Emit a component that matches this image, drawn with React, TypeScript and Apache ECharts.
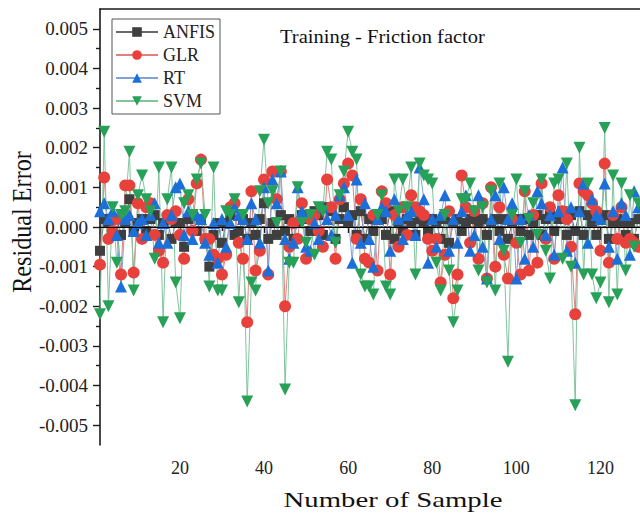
import React, { useEffect, useRef } from "react";
import * as echarts from "echarts";

const samples: number[] = Array.from({ length: 130 }, (_, i) => i + 1);

const anfis: number[] = [
  -0.0006, 0.0002, 0.0001, -0.0001, 0.0002, -0.0002, 0.0001, 0.0007, -0.0001, 0.0001,
  0.0002, -0.0001, 0.0002, 0.0003, -0.0002, 0.0001, 0.0002, -0.0003, 0.0001, 0.0001,
  -0.0005, 0.0002, 0.0003, -0.0001, 0.0002, -0.0003, -0.001, -0.0002, 0.0001, -0.0004,
  0.0001, 0.0003, -0.0002, -0.0001, 0.0002, -0.0003, 0.0001, -0.0002, 0.0002, 0.0006,
  -0.0003, 0.0001, -0.0002, 0.0003, -0.0001, 0.0002, -0.0003, 0.0001, 0.0003, 0.0002,
  -0.0001, 0.0004, 0.0003, -0.0002, 0.0005, 0.0004, -0.0003, 0.0002, 0.0005, 0.0001,
  0.0003, -0.0002, 0.0004, -0.0003, 0.0002, -0.0001, 0.0003, 0.0002, -0.0002, 0.0004,
  -0.0003, 0.0001, -0.0001, 0.0002, 0.0001, -0.0002, 0.0002, 0.0001, -0.0001, 0.0002,
  0.0001, -0.0003, 0.0002, -0.0004, 0.0001, 0.0002, -0.0001, 0.0001, 0.0002, 0.0002,
  0.0001, 0.0002, -0.0002, 0.0001, 0.0002, -0.0001, 0.0002, -0.0003, 0.0001, 0.0002,
  -0.0001, 0.0002, -0.0002, 0.0001, 0.0003, -0.0002, 0.0002, 0.0003, -0.0001, 0.0002,
  0.0004, -0.0002, 0.0003, -0.0001, 0.0004, -0.0002, 0.0003, 0.0001, -0.0002, 0.0002,
  0.0003, -0.0003, 0.0001, 0.0002, 0.0001, -0.0002, 0.0001, -0.0003, 0.0002, -0.0001,
];

const glr: number[] = [
  -0.00095, 0.00125, -0.0003, -0.0001, 0.0002, -0.0012, 0.00105, 0.00105, -0.00115, 0.0006,
  -0.0003, 0.0005, 0.0006, -0.0002, -0.0006, -0.0009, 0.0003, 0.0002, 0.0004, -0.0002,
  -0.0008, 0.0007, -0.0001, 0.0011, 0.0017, -0.0003, -0.0003, -0.0007, -0.0008, -0.0012,
  -0.0007, 0.0005, 0.0006, -0.0004, -0.0008, -0.0024, 0.0009, -0.0011, -0.0006, 0.0012,
  -0.0012, 0.0014, 0.0007, 0.0014, -0.002, -0.0005, 0.0001, -0.0003, 0.0006, -0.0008,
  0.0002, 0.0003, -0.0001, -0.0005, 0.0012, 0.0005, -0.0008, 0.0007, 0.0011, 0.0016,
  0.0013, -0.0003, 0.0007, -0.0008, -0.0009, 0.0003, -0.0011, 0.0009, 0.0006, -0.0012,
  0.0003, -0.0005, 0.0005, -0.0002, 0.0008, 0.0005, 0.0004, 0.0003, -0.0003, -0.0006,
  -0.0003, -0.0014, -0.0007, 0.0004, -0.0018, -0.0012, 0.0013, 0.0005, -0.0004, 0.0004,
  -0.0008, 0.0006, -0.0013, 0.001, -0.001, 0.0005, -0.0007, -0.0013, 0.0002, -0.0004,
  -0.0012, 0.0009, -0.0011, 0.0003, -0.0009, 0.0011, -0.0003, 0.0005, -0.0008, 0.0008,
  0.0004, 0.0002, -0.0005, -0.0022, 0.0011, 0.0009, 0.0008, 0.0006, 0.0004, -0.0006,
  0.0016, -0.0009, 0.0003, -0.0003, 0.0005, -0.0004, -0.0003, -0.0004, -0.0005, -0.0003,
];

const rt: number[] = [
  0.0004, 0.0006, 0.0002, 0.0004, -0.0002, -0.0015, 0.0002, 0.0003, -0.0001, 0.0001,
  0.0002, -0.0002, 0.0003, 0.0006, -0.0004, 0.0001, -0.0004, 0.0003, 0.001, 0.0011,
  -0.0002, 0.0004, -0.0003, 0.0003, 0.0002, -0.0004, -0.0007, 0.0001, -0.0009, 0.0002,
  -0.0005, 0.0001, 0.0005, 0.0003, 0.0002, -0.0003, 0.0006, 0.0002, -0.0004, 0.001,
  -0.0011, 0.0012, 0.0006, 0.0014, -0.0003, -0.0008, -0.0004, 0.001, 0.0004, -0.0005,
  -0.0006, 0.0001, -0.0003, 0.0005, 0.0002, -0.0002, 0.0003, 0.0008, 0.001, 0.0003,
  -0.0009, 0.0012, -0.0004, 0.0006, -0.0003, -0.001, 0.0002, 0.0005, 0.0004, -0.0006,
  0.0007, 0.0002, -0.0003, 0.0003, 0.0004, -0.0002, 0.0015, 0.0007, -0.0009, 0.0002,
  -0.0005, 0.0003, 0.0008, -0.0006, 0.0002, -0.0004, 0.0004, 0.0008, -0.0006, -0.0002,
  0.0008, -0.0005, -0.0013, 0.0002, 0.0008, -0.0003, 0.001, 0.0002, 0.0006, -0.0013,
  0.0002, -0.0008, 0.0003, -0.0005, 0.0009, 0.0006, -0.0002, 0.0003, -0.0007, 0.0004,
  0.0015, -0.0006, 0.0005, -0.0009, 0.0004, 0.0011, -0.0004, 0.0007, 0.0003, 0.0002,
  0.0011, -0.0005, 0.0004, -0.0008, 0.0006, 0.0003, -0.0007, 0.0009, 0.0005, -0.0006,
];

const svm: number[] = [
  -0.0022, 0.0024, -0.002, 0.0005, -0.0009, 0.0003, 0.0004, 0.0019, -0.0016, 0.0008,
  0.0013, 0.0007, 0.0004, -0.0008, 0.0015, -0.0024, 0.0007, 0.0015, -0.0014, -0.0023,
  0.0006, 0.0008, 0.0003, 0.0012, 0.0016, 0.0003, -0.0015, 0.0015, -0.0016, -0.0016,
  0.0004, 0.0003, 0.0007, -0.0019, 0.0003, -0.0044, -0.0014, -0.0016, 0.0009, 0.0022,
  0.0006, 0.0009, 0.0001, 0.0014, -0.0041, -0.0009, -0.0009, 0.001, 0.0001, -0.0004,
  0.0003, -0.0007, 0.0005, 0.0004, 0.0019, 0.0017, -0.0004, 0.0008, 0.0014, 0.0024,
  0.0019, 0.0017, -0.0012, -0.0015, -0.0015, -0.0017, 0.0003, 0.0008, -0.0015, -0.0017,
  0.0012, 0.0004, 0.0012, 0.0005, 0.0015, -0.0012, 0.0016, 0.0013, 0.0012, 0.0011,
  -0.0009, -0.0016, 0.0003, -0.0011, -0.0024, -0.0016, 0.0007, 0.0007, 0.0011, 0.0004,
  -0.0011, 0.0005, -0.0014, 0.0009, -0.0016, 0.0011, -0.0006, -0.0034, 0.0003, 0.0012,
  -0.0004, 0.0009, 0.0002, 0.0006, -0.0002, 0.0012, -0.0006, -0.0013, 0.0011, 0.0012,
  -0.0008, 0.0016, -0.001, -0.0045, 0.002, -0.0012, 0.0011, -0.0012, -0.0018, -0.0014,
  0.0025, -0.0019, 0.0013, -0.0017, 0.0011, -0.0011, 0.0008, -0.0005, 0.0006, -0.0007,
];

const seriesNames: string[] = ["ANFIS", "GLR", "RT", "SVM"];
const yMajorTicks: number[] = [-0.005, -0.004, -0.003, -0.002, -0.001, 0, 0.001, 0.002, 0.003, 0.004, 0.005];
const yMinorTicks: number[] = [-0.0045, -0.0035, -0.0025, -0.0015, -0.0005, 0.0005, 0.0015, 0.0025, 0.0035, 0.0045];
const xMajorTicks: number[] = [20, 40, 60, 80, 100, 120];
const xMinorTicks: number[] = [10, 30, 50, 70, 90, 110];

const X_MIN = 1;
const X_MAX = 129.4;
const Y_MIN = -0.0055;
const Y_MAX = 0.0055;

const FONT = "'Liberation Serif', 'Times New Roman', serif";

export default function App() {
  const ref = useRef<HTMLDivElement>(null);

  useEffect(() => {
    if (!ref.current) return;
    const chart = echarts.init(ref.current, undefined, { renderer: "svg" });

    const toPairs = (arr: number[]) => arr.map((v, i) => [samples[i], v]);

    const styles = [
      { marker: "#3f3f3f", line: "#6a6a6a", symbol: "rect", size: 10, rotate: 0 },
      { marker: "#e8413c", line: "#e0817c", symbol: "circle", size: 12, rotate: 0 },
      { marker: "#1c6fd8", line: "#7fa3d8", symbol: "triangle", size: 12, rotate: 0 },
      { marker: "#27a157", line: "#82c49d", symbol: "triangle", size: 12, rotate: 180 },
    ];
    const datasets = [anfis, glr, rt, svm];

    const series: any[] = datasets.map((d, i) => ({
      name: seriesNames[i],
      type: "line",
      data: toPairs(d),
      xAxisIndex: 0,
      yAxisIndex: 0,
      symbol: styles[i].symbol,
      symbolSize: styles[i].size,
      symbolRotate: styles[i].rotate,
      showAllSymbol: true,
      clip: true,
      lineStyle: { color: styles[i].line, width: 1 },
      itemStyle: { color: styles[i].marker, borderWidth: 0 },
      emphasis: { disabled: true },
    }));

    series[3].markLine = {
      silent: true,
      symbol: ["none", "none"],
      label: { show: false },
      lineStyle: { color: "#000", width: 1.2, type: "solid" },
      data: [{ yAxis: 0 }],
    };

    const axisColor = "#1a1a1a";

    chart.setOption({
      animation: false,
      backgroundColor: "#ffffff",
      grid: { left: 100, right: 0, top: 9, bottom: 71, containLabel: false },
      legend: {
        data: seriesNames,
        orient: "vertical",
        left: 112,
        top: 19,
        itemWidth: 42,
        itemHeight: 12,
        itemGap: 5,
        padding: [4, 5, 4, 3],
        borderColor: "#555",
        borderWidth: 1,
        backgroundColor: "#fff",
        textStyle: { fontFamily: FONT, fontSize: 18, color: "#222" },
      },
      xAxis: [
        {
          type: "value",
          min: X_MIN,
          max: X_MAX,
          position: "bottom",
          axisLine: { show: true, lineStyle: { color: axisColor, width: 1.6 } },
          axisTick: { show: true, customValues: xMajorTicks, length: 6, lineStyle: { color: axisColor, width: 1.4 } },
          axisLabel: { customValues: xMajorTicks, fontFamily: FONT, fontSize: 18, color: "#222", margin: 14 },
          splitLine: { show: false },
        },
        {
          type: "value",
          min: X_MIN,
          max: X_MAX,
          position: "bottom",
          axisLine: { show: false },
          axisTick: { show: true, customValues: xMinorTicks, length: 4, lineStyle: { color: axisColor, width: 1.4 } },
          axisLabel: { show: false },
          splitLine: { show: false },
        },
        {
          type: "value",
          min: X_MIN,
          max: X_MAX,
          position: "top",
          axisLine: { show: true, lineStyle: { color: axisColor, width: 1.6 } },
          axisTick: { show: false },
          axisLabel: { show: false },
          splitLine: { show: false },
        },
      ],
      yAxis: [
        {
          type: "value",
          min: Y_MIN,
          max: Y_MAX,
          position: "left",
          axisLine: { show: true, lineStyle: { color: axisColor, width: 1.6 } },
          axisTick: { show: true, customValues: yMajorTicks, length: 7, lineStyle: { color: axisColor, width: 1.4 } },
          axisLabel: {
            customValues: yMajorTicks,
            fontFamily: FONT,
            fontSize: 19,
            color: "#222",
            margin: 12,
            formatter: (v: number) => v.toFixed(3),
          },
          splitLine: { show: false },
        },
        {
          type: "value",
          min: Y_MIN,
          max: Y_MAX,
          position: "left",
          axisLine: { show: false },
          axisTick: { show: true, customValues: yMinorTicks, length: 4, lineStyle: { color: axisColor, width: 1.4 } },
          axisLabel: { show: false },
          splitLine: { show: false },
        },
      ],
      series,
      graphic: [
        {
          type: "text",
          x: 280,
          y: 36,
          scaleX: 1.08,
          silent: true,
          style: {
            text: "Training - Friction factor",
            font: `19px ${FONT}`,
            fill: "#111",
            textAlign: "left",
            textVerticalAlign: "middle",
          },
        },
        {
          type: "text",
          x: 393,
          y: 500,
          scaleX: 1.37,
          silent: true,
          style: {
            text: "Number of Sample",
            font: `21px ${FONT}`,
            fill: "#111",
            textAlign: "center",
            textVerticalAlign: "middle",
          },
        },
        {
          type: "text",
          x: 22,
          y: 222,
          rotation: Math.PI / 2,
          scaleX: 1.1,
          scaleY: 1.25,
          silent: true,
          style: {
            text: "Residual Error",
            font: `22px ${FONT}`,
            fill: "#111",
            textAlign: "center",
            textVerticalAlign: "middle",
          },
        },
      ],
    });

    return () => {
      chart.dispose();
    };
  }, []);

  return (
    <div
      ref={ref}
      style={{ position: "absolute", left: 0, top: 0, width: 640, height: 516, background: "#fff" }}
    />
  );
}
